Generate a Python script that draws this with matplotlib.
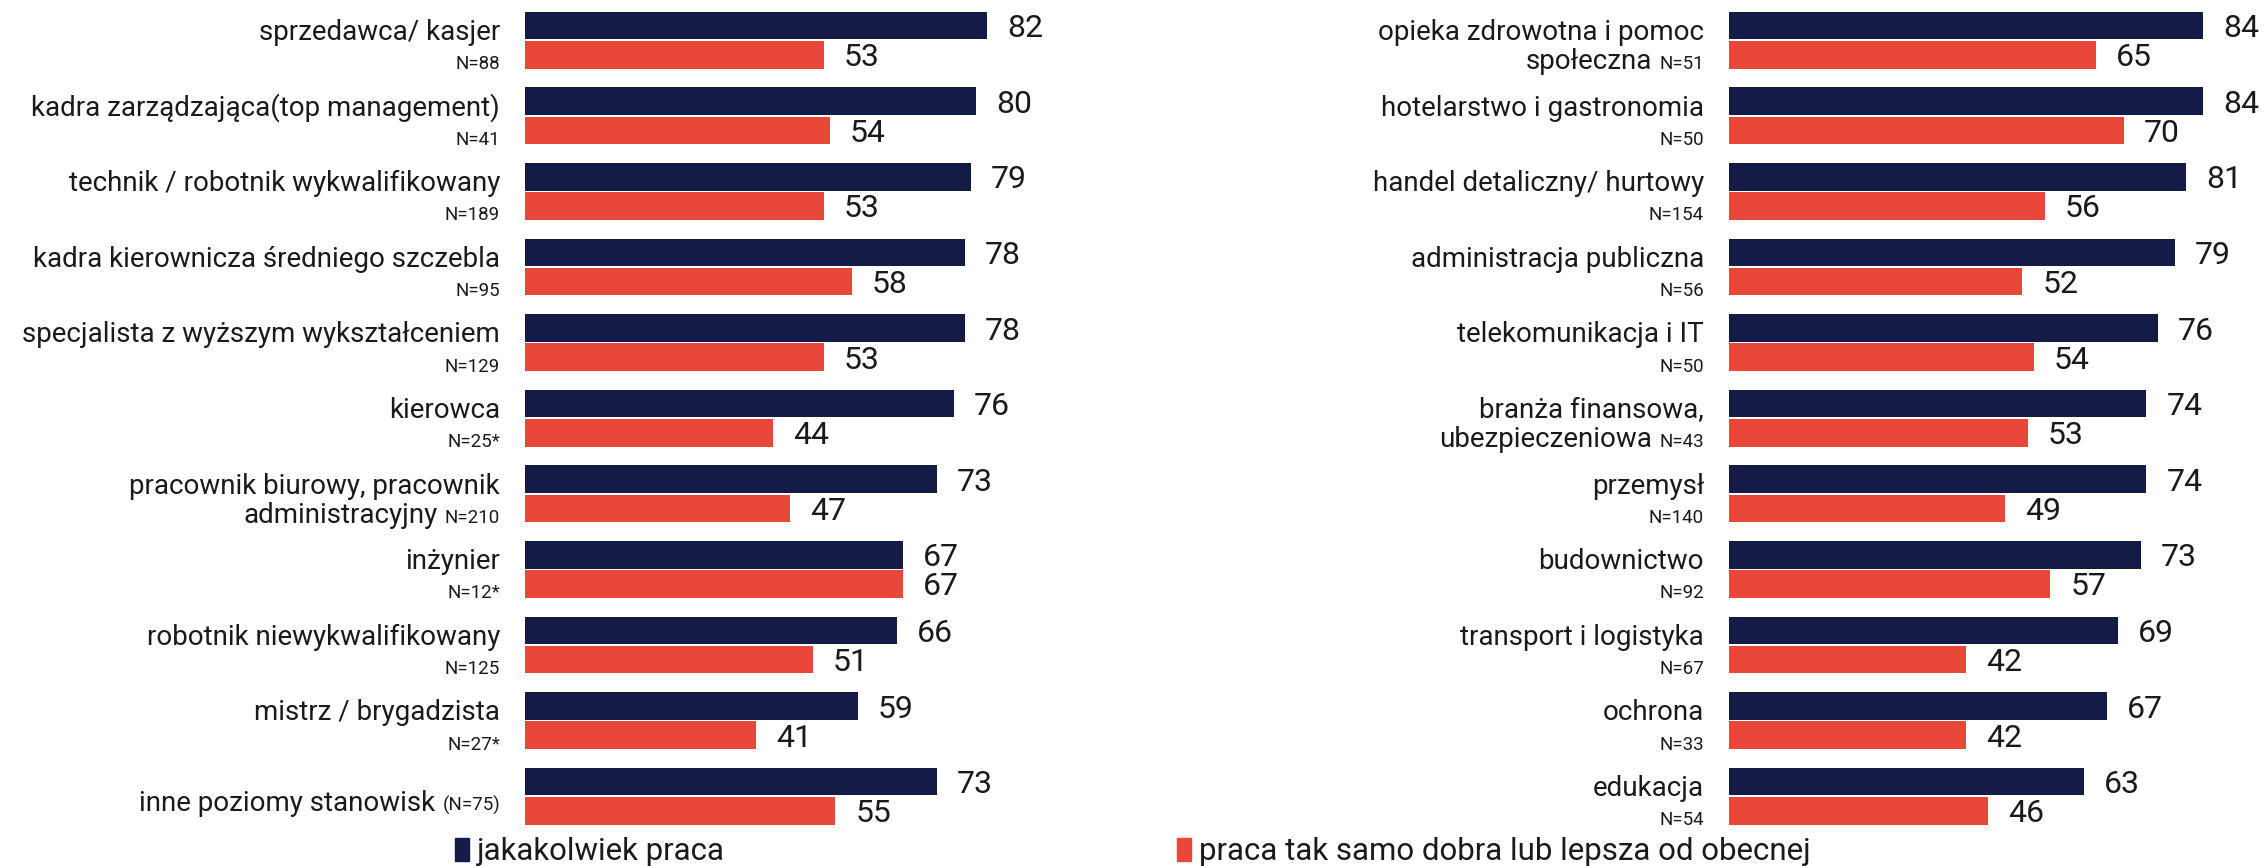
import matplotlib.pyplot as plt
import matplotlib.transforms as mtransforms
from matplotlib.patches import Patch

plt.rcParams['font.family'] = ['Roboto', 'DejaVu Sans']

NAVY = '#141b46'
RED = '#e8473a'
TEXT = '#1a1a1a'

# "\n" splits a label in two lines, the N note goes at the end of the last line
left_labels = [
    "sprzedawca/ kasjer\n",
    "kadra zarządzająca(top management)\n",
    "technik / robotnik wykwalifikowany\n",
    "kadra kierownicza średniego szczebla\n",
    "specjalista z wyższym wykształceniem\n",
    "kierowca\n",
    "pracownik biurowy, pracownik\nadministracyjny",
    "inżynier\n",
    "robotnik niewykwalifikowany\n",
    "mistrz / brygadzista\n",
    "inne poziomy stanowisk",
]
left_n = ["N=88", "N=41", "N=189", "N=95", "N=129", "N=25*", "N=210",
          "N=12*", "N=125", "N=27*", "(N=75)"]
left_any = [82, 80, 79, 78, 78, 76, 73, 67, 66, 59, 73]
left_better = [53, 54, 53, 58, 53, 44, 47, 67, 51, 41, 55]

right_labels = [
    "opieka zdrowotna i pomoc\nspołeczna",
    "hotelarstwo i gastronomia\n",
    "handel detaliczny/ hurtowy\n",
    "administracja publiczna\n",
    "telekomunikacja i IT\n",
    "branża finansowa,\nubezpieczeniowa",
    "przemysł\n",
    "budownictwo\n",
    "transport i logistyka\n",
    "ochrona\n",
    "edukacja\n",
]
right_n = ["N=51", "N=50", "N=154", "N=56", "N=50", "N=43", "N=140",
           "N=92", "N=67", "N=33", "N=54"]
right_any = [84, 84, 81, 79, 76, 74, 74, 73, 69, 67, 63]
right_better = [65, 70, 56, 52, 54, 53, 49, 57, 42, 42, 46]

series_names = ["jakakolwiek praca", "praca tak samo dobra lub lepsza od obecnej"]

W, H, DPI = 2267, 866, 100
fig = plt.figure(figsize=(W / DPI, H / DPI), dpi=DPI)
renderer = fig.canvas.get_renderer()

OFF = 0.193     # half distance between the two bars of a group
BAR_H = 0.364
BASE = 0.19     # label baseline below the line's center
LAB_SIZE = 20
N_SIZE = 13.5
VAL_SIZE = 23


def draw_panel(x0_px, labels, ns, any_vals, better_vals):
    ax = fig.add_axes([x0_px / W, 32 / H, 564 / W, 831.6 / H])
    ax.set_xlim(0, 100)
    ax.set_ylim(len(labels) - 0.5, -0.5)
    ax.axis('off')
    rows = range(len(labels))
    ys_any = [i - OFF for i in rows]
    ys_better = [i + OFF for i in rows]
    ax.barh(ys_any, any_vals, height=BAR_H, color=NAVY)
    ax.barh(ys_better, better_vals, height=BAR_H, color=RED)
    for y, v in zip(ys_any, any_vals):
        ax.annotate(str(v), xy=(v, y), xytext=(20, 0), textcoords='offset pixels',
                    ha='left', va='center_baseline', fontsize=VAL_SIZE, color=TEXT)
    for y, v in zip(ys_better, better_vals):
        ax.annotate(str(v), xy=(v, y), xytext=(20, 0), textcoords='offset pixels',
                    ha='left', va='center_baseline', fontsize=VAL_SIZE, color=TEXT)

    tr = ax.get_yaxis_transform()
    xl = -25 / 564
    for i, (lab, n) in enumerate(zip(labels, ns)):
        lines = lab.split("\n")
        if len(lines) == 1:
            ys = [i]
        else:
            ys = [i - OFF, i + OFF]
        for k, (line, yy) in enumerate(zip(lines, ys)):
            yb = yy + BASE
            if k == len(lines) - 1:
                nt = ax.text(xl, yb, n, transform=tr, ha='right', va='baseline',
                             fontsize=N_SIZE, color=TEXT)
                if line:
                    w = nt.get_window_extent(renderer).width
                    tr2 = mtransforms.offset_copy(tr, fig=fig, x=-(w + 7), y=0, units='dots')
                    ax.text(xl, yb, line, transform=tr2, ha='right', va='baseline',
                            fontsize=LAB_SIZE, color=TEXT)
            else:
                ax.text(xl, yb, line, transform=tr, ha='right', va='baseline',
                        fontsize=LAB_SIZE, color=TEXT)
    return ax


draw_panel(525, left_labels, left_n, left_any, left_better)
draw_panel(1729, right_labels, right_n, right_any, right_better)

for name, color, x_px in zip(series_names, [NAVY, RED], [455, 1177]):
    fig.legend(handles=[Patch(color=color)], labels=[name], loc='center left',
               bbox_to_anchor=(x_px / W, 1 - 852 / H), frameon=False,
               borderpad=0, borderaxespad=0, handlelength=0.45, handleheight=0.75,
               handletextpad=0.25, fontsize=22.5, labelcolor=TEXT)

fig.savefig('out.png', dpi=DPI)
